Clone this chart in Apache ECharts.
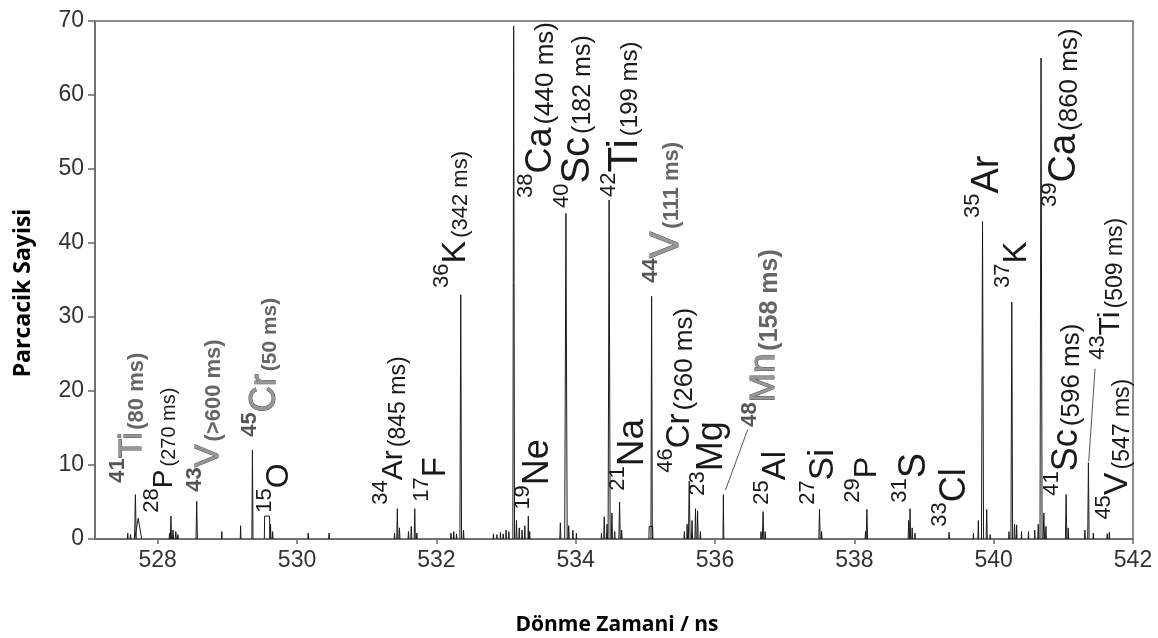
<!DOCTYPE html>
<html><head><meta charset="utf-8">
<script src="https://cdn.jsdelivr.net/npm/echarts@6/dist/echarts.min.js"></script>
<style>html,body{margin:0;padding:0;background:#fff}#c{width:1158px;height:638px}</style>
</head><body><div id="c"></div>
<script>
// ---- axis ticks ----
const xTicks = [528, 530, 532, 534, 536, 538, 540, 542];
const yTicks = [0, 10, 20, 30, 40, 50, 60, 70];

// ---- spectrum peaks (time of flight in ns, counts, half base width in ns) ----
const peakX = [527.57,527.61,527.68,527.72,528.17,528.19,528.22,528.26,528.29,528.56,528.92,529.19,529.36,
  529.62,529.65,530.16,530.46,531.40,531.44,531.47,531.60,531.64,531.69,531.72,
  532.21,532.25,532.29,532.35,532.39,532.82,532.87,532.92,532.96,533.00,533.04,533.11,533.15,533.19,533.23,533.27,533.32,533.34,
  533.78,533.86,533.90,533.96,534.01,534.37,534.41,534.45,534.48,534.52,534.56,534.63,534.66,
  535.09,535.56,535.60,535.63,535.67,535.72,535.75,535.79,536.12,536.66,536.69,536.72,
  537.50,537.53,538.16,538.18,538.78,538.80,538.83,538.87,539.36,
  539.71,539.78,539.84,539.90,539.95,540.22,540.26,540.30,540.33,540.40,540.50,
  540.59,540.64,540.68,540.72,540.75,541.04,541.07,541.31,541.36,541.43,541.63,541.66];
const peakH = [0.8,0.6,6.0,2.8,0.8,3.1,1.2,1.0,0.6,5.1,1.0,1.8,12.0,
  2.0,1.0,0.8,0.8,0.8,4.1,1.5,1.0,1.7,4.1,0.8,
  0.8,1.0,0.7,33.0,1.2,0.7,0.6,0.9,0.7,1.2,1.0,69.3,2.5,1.5,1.2,1.8,3.1,1.0,
  2.2,44.0,1.8,1.2,0.8,0.8,3.0,2.0,45.8,3.5,1.0,5.0,1.2,
  32.8,1.0,2.0,7.8,2.5,4.1,3.8,1.0,6.0,1.0,3.7,1.0,
  4.0,1.0,1.0,4.0,2.5,4.1,1.5,0.8,0.9,
  0.8,2.5,42.9,4.0,0.6,1.0,32.0,2.0,1.9,1.0,1.0,
  1.2,2.0,65.0,3.5,1.7,6.0,1.5,1.2,10.3,0.8,0.7,0.9];
const peakW = [0.006,0.006,0.012,0.05,0.006,0.008,0.008,0.008,0.006,0.01,0.005,0.005,0.008,
  0.006,0.006,0.006,0.006,0.006,0.008,0.008,0.006,0.008,0.008,0.006,
  0.006,0.006,0.006,0.012,0.006,0.005,0.005,0.005,0.005,0.006,0.006,0.012,0.008,0.006,0.006,0.006,0.005,0.005,
  0.008,0.018,0.008,0.006,0.005,0.005,0.008,0.008,0.015,0.008,0.006,0.01,0.006,
  0.01,0.006,0.006,0.012,0.008,0.008,0.008,0.006,0.006,0.006,0.01,0.006,
  0.01,0.006,0.006,0.01,0.008,0.008,0.006,0.005,0.006,
  0.005,0.006,0.015,0.008,0.005,0.005,0.012,0.008,0.005,0.005,0.005,
  0.005,0.008,0.015,0.01,0.006,0.01,0.006,0.006,0.01,0.005,0.005,0.005];
// flat-topped (box) peaks: centre, counts, half width
const boxX = [529.57, 535.08];
const boxH = [3.1, 1.7];
const boxW = [0.035, 0.025];

// ---- leader lines [x1, y1, x2, y2] ----
const leaders = [[536.47, 14.8, 536.15, 6.6], [541.455, 23.0, 541.365, 10.5]];

// ---- isotope annotations ----
const labelMass = ['41','28','43','45','15','34','17','36','38','40','42','44','46','19','21','23','48','25','27','29','31','33','35','37','39','41','43','45'];
const labelSym  = ['Ti','P','V','Cr','O','Ar','F','K','Ca','Sc','Ti','V','Cr','Ne','Na','Mg','Mn','Al','Si','P','S','Cl','Ar','K','Ca','Sc','Ti','V'];
const labelLife = ['(80 ms)','(270 ms)','(>600 ms)','(50 ms)','','(845 ms)','','(342 ms)','(440 ms)','(182 ms)','(199 ms)','(111 ms)','(260 ms)','','','','(158 ms)','','','','','','','','(860 ms)','(596 ms)','(509 ms)','(547 ms)'];
const labelX = [527.627,528.10,528.732,529.537,529.738,531.389,531.992,532.279,533.50,534.031,534.72,535.309,535.496,533.457,534.821,535.965,536.713,536.871,537.549,538.181,538.870,539.445,539.918,540.335,541.024,541.053,541.685,541.785];
const labelY = [7.61,3.56,6.40,13.82,3.56,4.64,5.05,33.93,46.07,44.72,46.21,34.62,8.96,3.97,6.53,5.86,15.17,4.64,4.64,4.91,4.91,1.67,43.37,33.93,44.86,5.86,24.21,2.62];
// styles for annotations (kept apart from the values)
const labelSize = [32,28,34,36,32,30,33,34,36,40,42,40,33,36,37,36,35,33,35,32,38,36,38,33,38,36,30,34];
const lifeSize  = [22,20,22,21,0,23,0,22,26,25,24,22,26,0,0,0,25,0,0,0,0,0,0,0,26,26,23,23];
const labelGray = [1,0,1,1,0,0,0,0,0,0,0,1,0,0,0,0,1,0,0,0,0,0,0,0,0,0,0,0];

const FONT = '"Liberation Sans", Arial, sans-serif';

function richFor(i) {
  const S = labelSize[i];
  const off = 0.3 * S + 4.5;
  const H = 2 * off + 21;
  const g = labelGray[i] === 1;
  return {
    s: { fontSize: 22, lineHeight: 22, verticalAlign: 'top', fontFamily: FONT,
         fill: g ? '#555' : '#1a1a1a', fontWeight: g ? 'bold' : 'normal' },
    e: { fontSize: S, lineHeight: H, fontFamily: FONT, fill: g ? '#979797' : '#1a1a1a',
         stroke: g ? '#505050' : null, lineWidth: g ? 1 : 0 },
    m: { fontSize: lifeSize[i] || 22, fontFamily: FONT,
         fill: g ? '#666' : '#1a1a1a', fontWeight: g ? 'bold' : 'normal', padding: [10, 0, 0, 3] }
  };
}

const peakData = peakX.map((x, i) => [x, peakH[i], peakW[i], 0]);
boxX.forEach((x, i) => peakData.push([x, boxH[i], 0.004, boxW[i]]));
const labelData = labelX.map((x, i) => [x, labelY[i], i]);

const chart = echarts.init(document.getElementById('c'), null, { renderer: 'canvas' });
chart.setOption({
  animation: false,
  backgroundColor: '#fff',
  grid: { left: 95, right: 25, top: 21, bottom: 99, show: true, borderColor: '#6a6a6a', borderWidth: 1.5, backgroundColor: 'transparent' },
  xAxis: {
    type: 'value', min: 527.1, max: 542,
    axisLine: { show: true, lineStyle: { color: '#6a6a6a', width: 1.5 } },
    axisTick: { show: true, customValues: xTicks, length: 5, lineStyle: { color: '#6a6a6a', width: 1.5 } },
    axisLabel: { customValues: xTicks, fontSize: 23, color: '#333', margin: 10, fontFamily: FONT },
    splitLine: { show: false }
  },
  yAxis: {
    type: 'value', min: 0, max: 70, interval: 10,
    axisLine: { show: true, lineStyle: { color: '#6a6a6a', width: 1.5 } },
    axisTick: { show: true, length: 7, lineStyle: { color: '#6a6a6a', width: 1.5 } },
    axisLabel: { fontSize: 23, color: '#333', margin: 11, fontFamily: FONT, customValues: yTicks },
    splitLine: { show: false }
  },
  graphic: [
    { type: 'text', x: 617, y: 625, style: { text: 'Dönme Zamani / ns', font: 'bold 21px "Open Sans", sans-serif', fill: '#000', align: 'center', verticalAlign: 'middle', textAlign: 'center', textVerticalAlign: 'middle' } },
    { type: 'text', x: 23, y: 293, rotation: Math.PI / 2, style: { text: 'Parcacik Sayisi', font: 'bold 23px "Open Sans", sans-serif', fill: '#000', align: 'center', verticalAlign: 'middle', textAlign: 'center', textVerticalAlign: 'middle' } }
  ],
  series: [
    {
      type: 'custom', data: peakData, encode: { x: 0, y: 1 }, clip: true, z: 3,
      renderItem: function (params, api) {
        const x = api.value(0), h = api.value(1), w = api.value(2), f = api.value(3);
        const pts = [api.coord([x - f - w, 0]), api.coord([x - f, h]), api.coord([x + f, h]), api.coord([x + f + w, 0])];
        return { type: 'polyline', shape: { points: pts }, style: { stroke: '#1a1a1a', lineWidth: 1, fill: null } };
      }
    },
    {
      type: 'custom', data: leaders, encode: { x: 0, y: 1 }, z: 3,
      renderItem: function (params, api) {
        const a = api.coord([api.value(0), api.value(1)]);
        const b = api.coord([api.value(2), api.value(3)]);
        return { type: 'line', shape: { x1: a[0], y1: a[1], x2: b[0], y2: b[1] }, style: { stroke: '#555', lineWidth: 1 } };
      }
    },
    {
      type: 'custom', data: labelData, encode: { x: 0, y: 1 }, z: 4, clip: false,
      renderItem: function (params, api) {
        const i = api.value(2);
        const p = api.coord([api.value(0), api.value(1)]);
        let txt = '{s|' + labelMass[i] + '}{e|' + labelSym[i] + '}';
        if (labelLife[i]) txt += '{m|' + labelLife[i] + '}';
        return {
          type: 'text', x: p[0], y: p[1], rotation: Math.PI / 2,
          style: { text: txt, rich: richFor(i), align: 'left', verticalAlign: 'middle' }
        };
      }
    }
  ]
});
</script>
</body></html>
